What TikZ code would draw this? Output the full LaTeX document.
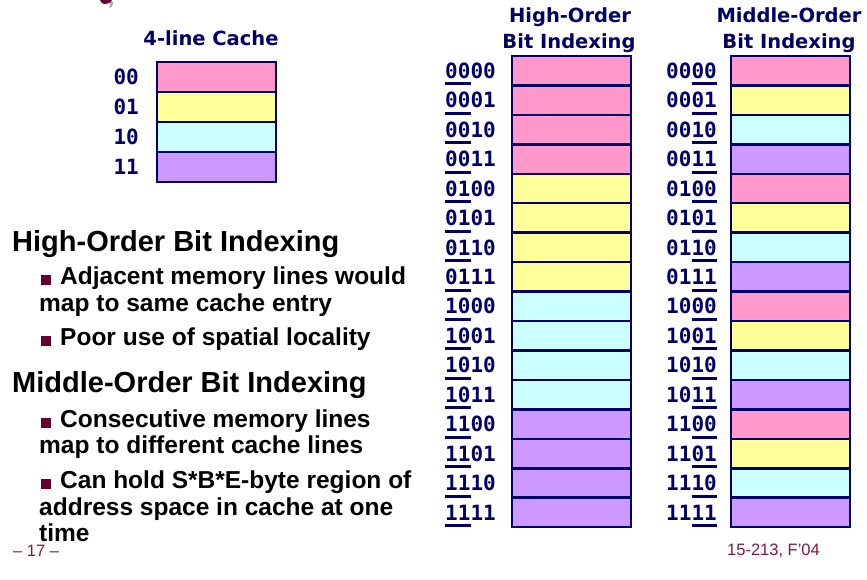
\documentclass[tikz,border=0pt]{standalone}
\usepackage{fontspec}
\setmainfont{Liberation Sans}
\newfontfamily\headfont{DejaVu Sans}
\newfontfamily\addrfont{DejaVu Sans Mono}
\usetikzlibrary{positioning,calc}
\definecolor{navy}{HTML}{000066}
\definecolor{maroon}{HTML}{660033}
\definecolor{footred}{HTML}{7A1A48}
\definecolor{c00}{HTML}{FF99CC}
\definecolor{c01}{HTML}{FFFF99}
\definecolor{c10}{HTML}{CCFFFF}
\definecolor{c11}{HTML}{CC99FF}
% thick bar under the index bits
\newcommand\ubar[1]{\setbox0\hbox{#1}\rlap{\smash{\rule[-7pt]{\wd0}{3pt}}}#1}

\begin{document}
\begin{tikzpicture}[x=1pt,y=-1pt,
line/.style={
  draw=navy,
  line width=2.5pt,
  minimum width=119pt,
  inner sep=0pt,
  outer sep=0pt},
addr/.style={
  text=navy,
  font=\addrfont\fontsize{21}{21}\selectfont\bfseries,
  inner sep=0pt},
head/.style={
  text=navy,
  font=\headfont\fontsize{19.5}{19.5}\selectfont\bfseries,
  inner sep=0pt,
  anchor=base},
big/.style={
  font=\fontsize{29}{29}\selectfont\bfseries,
  inner sep=0pt,
  anchor=base west},
txt/.style={
  font=\fontsize{24.5}{24.5}\selectfont\bfseries,
  inner sep=0pt,
  anchor=base west},
foot/.style={
  text=footred,
  font=\fontsize{16.5}{16.5}\selectfont,
  inner sep=0pt,
  anchor=base west},
bul/.style={
  fill=maroon,
  minimum size=10pt,
  inner sep=0pt}
]
\useasboundingbox (0,0) rectangle (867,579);
% cut-off title glyph
\fill[black!35] (107,0) .. controls (115,0) and (115,5) .. (109,8) .. controls (111,4) and (110,1) .. (105,0) -- cycle;
\fill[maroon] (100,0) .. controls (101,5) and (108,6) .. (112,0) -- cycle;

% cache
\node[head] (ctitle) at (211,45) {4-line Cache};
\foreach \c [count=\i from 0] in {00,01,10,11}
{
  \node[line,fill=c\c,minimum height=30pt] (c\c) at (216.5,{77+30*\i}) {};
  \node[addr,left=18pt of c\c] {\c};
}

% memory lines
\node[head] (hh1) at (570,22) {High-Order};
\node[head] (hh2) at (569,48) {Bit Indexing};
\node[head] (mh1) at (789,22) {Middle-Order};
\node[head] (mh2) at (789,48) {Bit Indexing};
\foreach \p/\q [count=\i from 0] in {00/00,00/01,00/10,00/11,01/00,01/01,01/10,01/11,
  10/00,10/01,10/10,10/11,11/00,11/01,11/10,11/11}
{
  \node[line,fill=c\p,minimum height=29.45pt] (h\i) at (571.5,{70.7+29.45*\i}) {};
  \node[addr,left=16pt of h\i] {\ubar{\p}\q};
  \node[line,fill=c\q,minimum height=29.45pt] (m\i) at (790.5,{70.7+29.45*\i}) {};
  \node[addr,left=14pt of m\i] {\p\ubar{\q}};
}

% text
\node[big] (ho) at (12,251) {High-Order Bit Indexing};
\node[bul] (b1) at (45.5,279.5) {};
\node[txt] (ho1) at (60,284) {Adjacent memory lines would};
\node[txt] (ho1b) at (39,311) {map to same cache entry};
\node[bul] (b2) at (45.5,340.5) {};
\node[txt] (ho2) at (60,345) {Poor use of spatial locality};
\node[big] (mo) at (12,392) {Middle-Order Bit Indexing};
\node[bul] (b3) at (45.5,422.5) {};
\node[txt] (mo1) at (60,427) {Consecutive memory lines};
\node[txt] (mo1b) at (39,453) {map to different cache lines};
\node[bul] (b4) at (45.5,483.5) {};
\node[txt] (mo2) at (60,488) {Can hold S*B*E-byte region of};
\node[txt] (mo2b) at (39,515) {address space in cache at one};
\node[txt] (mo2c) at (39,541) {time};
\node[foot] (pg) at (13,556) {– 17 –};
\node[foot] (crs) at (727,555) {15-213, F’04};
\end{tikzpicture}
\end{document}
